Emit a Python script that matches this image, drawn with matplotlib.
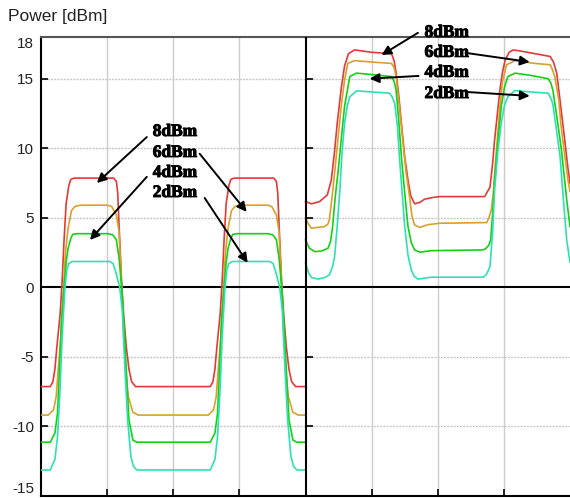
import matplotlib
matplotlib.use("Agg")
import matplotlib.pyplot as plt
import matplotlib.patheffects as pe

# ---------------- data ----------------
yticks = [-15, -10, -5, 0, 5, 10, 15, 18]
ytick_labels = ["-15", "-10", "-5", "0", "5", "10", "15", "18"]
series_names = ["8dBm", "6dBm", "4dBm", "2dBm"]
series_colors = ["#e23a36", "#d9a02c", "#16d016", "#2ee0b4"]

# left panel (x from 0 to 4)
red_left_x = [0.00, 0.14, 0.18, 0.21, 0.24, 0.29, 0.32, 0.35, 0.38, 0.42, 0.45, 0.50,
              1.10, 1.14, 1.16, 1.18, 1.22, 1.25, 1.29, 1.33, 1.37, 1.43,
              2.56, 2.60, 2.63, 2.66, 2.71, 2.74, 2.77, 2.80, 2.84, 2.87, 2.92,
              3.52, 3.56, 3.58, 3.60, 3.64, 3.67, 3.71, 3.75, 3.79, 3.85, 4.00]
red_left_y = [-7.15, -7.15, -6.8, -5.9, -4.3, -1.9, 0.5, 3.5, 6.0, 7.3, 7.75, 7.85,
              7.85, 7.6, 6.8, 4.5, 0.3, -2.0, -4.3, -5.9, -6.8, -7.15,
              -7.15, -6.8, -5.9, -4.3, -1.9, 0.5, 3.5, 6.0, 7.3, 7.75, 7.85,
              7.85, 7.6, 6.8, 4.5, 0.3, -2.0, -4.3, -5.9, -6.8, -7.15, -7.15]

orange_left_x = [0.00, 0.11, 0.19, 0.23, 0.26, 0.30, 0.34, 0.37, 0.41, 0.46, 0.51, 0.59,
                 1.01, 1.07, 1.14, 1.18, 1.20, 1.22, 1.25, 1.28, 1.32, 1.39, 1.47,
                 2.53, 2.61, 2.65, 2.68, 2.72, 2.76, 2.79, 2.83, 2.88, 2.93, 3.01,
                 3.43, 3.49, 3.56, 3.60, 3.62, 3.64, 3.67, 3.70, 3.74, 3.81, 3.89, 4.00]
orange_left_y = [-9.2, -9.2, -8.83, -7.87, -5.95, -3.55, 0.0, 2.5, 4.25, 5.5, 5.8, 5.9,
                 5.9, 5.8, 5.2, 4.0, 2.0, 0.0, -3.55, -5.95, -7.87, -9.0, -9.2,
                 -9.2, -8.83, -7.87, -5.95, -3.55, 0.0, 2.5, 4.25, 5.5, 5.8, 5.9,
                 5.9, 5.8, 5.2, 4.0, 2.0, 0.0, -3.55, -5.95, -7.87, -9.0, -9.2, -9.2]

green_left_x = [0.00, 0.14, 0.21, 0.25, 0.28, 0.31, 0.35, 0.38, 0.41, 0.45, 0.48, 0.54,
                1.02, 1.09, 1.14, 1.18, 1.22, 1.25, 1.29, 1.33, 1.39, 1.45,
                2.56, 2.63, 2.67, 2.70, 2.73, 2.77, 2.80, 2.83, 2.87, 2.90, 2.96,
                3.44, 3.51, 3.56, 3.60, 3.64, 3.67, 3.71, 3.75, 3.81, 3.87, 4.00]
green_left_y = [-11.15, -11.15, -10.5, -9.06, -5.95, -2.35, 0.0, 1.8, 2.8, 3.5, 3.8, 3.85,
                3.85, 3.75, 3.4, 2.1, 0.0, -2.35, -5.95, -9.55, -11.0, -11.15,
                -11.15, -10.5, -9.06, -5.95, -2.35, 0.0, 1.8, 2.8, 3.5, 3.8, 3.85,
                3.85, 3.75, 3.4, 2.1, 0.0, -2.35, -5.95, -9.55, -11.0, -11.15, -11.15]

cyan_left_x = [0.00, 0.14, 0.21, 0.25, 0.29, 0.32, 0.36, 0.39, 0.42, 0.47,
               1.04, 1.09, 1.13, 1.19, 1.23, 1.27, 1.31, 1.36, 1.40, 1.45,
               2.56, 2.63, 2.67, 2.71, 2.74, 2.78, 2.81, 2.84, 2.89,
               3.46, 3.51, 3.55, 3.61, 3.65, 3.69, 3.73, 3.78, 3.82, 3.87, 4.00]
cyan_left_y = [-13.15, -13.15, -12.4, -10.75, -7.15, -3.55, -0.2, 1.25, 1.7, 1.85,
               1.85, 1.7, 1.1, 0.0, -1.7, -5.95, -9.55, -12.2, -12.9, -13.15,
               -13.15, -12.4, -10.75, -7.15, -3.55, -0.2, 1.25, 1.7, 1.85,
               1.85, 1.7, 1.1, 0.0, -1.7, -5.95, -9.55, -12.2, -12.9, -13.15, -13.15]

# right panel (x from 4 to 8)
red_right_x = [4.00, 4.09, 4.21, 4.33, 4.39, 4.44, 4.48, 4.54, 4.59, 4.65, 4.74, 4.85,
               5.00, 5.15, 5.30, 5.34, 5.37, 5.41, 5.45, 5.50, 5.55, 5.59, 5.65, 5.73,
               5.80, 5.92, 6.03, 6.71, 6.79, 6.83, 6.86, 6.90, 6.94, 6.98, 7.02, 7.08,
               7.14, 7.24, 7.47, 7.70, 7.75, 7.80, 7.86, 7.92, 7.97, 8.00]
red_right_y = [6.16, 6.0, 6.15, 6.64, 7.7, 9.8, 11.8, 14.3, 15.9, 16.8, 17.07, 17.0,
               16.9, 16.85, 16.8, 16.3, 15.4, 13.8, 11.8, 9.4, 7.7, 6.6, 6.0, 6.1,
               6.33, 6.45, 6.52, 6.52, 7.2, 8.9, 10.6, 12.4, 14.2, 15.5, 16.35, 16.9,
               17.07, 17.0, 16.8, 16.6, 16.2, 15.4, 13.0, 10.6, 8.5, 7.5]

orange_right_x = [4.00, 4.05, 4.09, 4.18, 4.29, 4.34, 4.36, 4.40, 4.44, 4.49, 4.54, 4.59,
                  4.64, 4.74, 5.00, 5.30, 5.34, 5.37, 5.42, 5.47, 5.52, 5.58, 5.61, 5.65,
                  5.73, 5.85, 6.03, 6.74, 6.77, 6.81, 6.84, 6.86, 6.90, 6.94, 6.98, 7.04,
                  7.17, 7.47, 7.70, 7.73, 7.77, 7.83, 7.86, 7.92, 7.97, 8.00]
orange_right_y = [4.96, 4.5, 4.24, 4.3, 4.36, 4.55, 4.84, 6.4, 8.2, 10.6, 13.0, 14.9,
                  16.1, 16.3, 16.2, 16.1, 15.8, 15.15, 13.0, 10.6, 8.3, 6.28, 5.1, 4.48,
                  4.3, 4.5, 4.6, 4.65, 4.95, 5.56, 6.8, 8.2, 10.6, 13.0, 14.8, 16.0,
                  16.3, 16.1, 16.0, 15.7, 15.15, 13.5, 11.8, 9.5, 7.7, 6.9]

green_right_x = [4.00, 4.06, 4.14, 4.24, 4.34, 4.38, 4.41, 4.45, 4.49, 4.54, 4.59, 4.67,
                 4.77, 5.00, 5.30, 5.34, 5.37, 5.41, 5.45, 5.50, 5.55, 5.60, 5.65, 5.73,
                 5.91, 6.67, 6.72, 6.77, 6.80, 6.83, 6.86, 6.91, 6.96, 7.01, 7.06, 7.17,
                 7.39, 7.67, 7.71, 7.74, 7.80, 7.87, 7.95, 8.00]
green_right_y = [3.4, 2.8, 2.56, 2.6, 2.8, 3.3, 4.36, 6.5, 8.2, 10.6, 13.0, 15.15,
                 15.4, 15.3, 15.15, 14.8, 14.2, 12.0, 9.4, 6.8, 4.36, 3.2, 2.68, 2.52,
                 2.63, 2.68, 2.75, 3.0, 3.4, 5.3, 7.7, 10.5, 13.0, 14.4, 15.15, 15.4,
                 15.25, 15.0, 14.7, 14.2, 12.3, 9.9, 6.3, 4.36]

cyan_right_x = [4.00, 4.05, 4.09, 4.19, 4.29, 4.36, 4.41, 4.44, 4.48, 4.52, 4.55, 4.59,
                4.63, 4.67, 4.77, 5.00, 5.27, 5.31, 5.35, 5.39, 5.42, 5.50, 5.55, 5.60,
                5.64, 5.70, 5.90, 6.69, 6.74, 6.79, 6.83, 6.86, 6.91, 6.96, 7.01, 7.06,
                7.17, 7.39, 7.67, 7.71, 7.74, 7.79, 7.85, 7.90, 7.95, 8.00]
cyan_right_y = [1.73, 1.0, 0.7, 0.58, 0.7, 0.88, 1.5, 2.2, 4.4, 7.0, 9.5, 11.8,
                13.0, 13.7, 14.12, 14.05, 13.96, 13.7, 13.2, 11.6, 9.4, 4.36, 2.3, 1.24,
                0.8, 0.58, 0.72, 0.72, 0.95, 1.48, 4.0, 7.0, 9.8, 11.8, 13.1, 13.7,
                14.15, 14.05, 13.96, 13.6, 13.2, 11.5, 9.4, 6.3, 3.4, 1.8]

left_x = [red_left_x, orange_left_x, green_left_x, cyan_left_x]
left_y = [red_left_y, orange_left_y, green_left_y, cyan_left_y]
right_x = [red_right_x, orange_right_x, green_right_x, cyan_right_x]
right_y = [red_right_y, orange_right_y, green_right_y, cyan_right_y]

# ---------------- figure ----------------
fig = plt.figure(figsize=(5.70, 4.98), dpi=100)
ax = fig.add_axes([41 / 570, 2.3 / 498, 529 / 570, 458.7 / 498])
ax.set_xlim(0, 8)
ax.set_ylim(-15, 18)

# grid
for gx in [1, 2, 3, 5, 6, 7]:
    ax.axvline(gx, color="#cccccc", lw=1.0, zorder=1)
for gy in [-10, -5, 5, 10, 15]:
    ax.axhline(gy, color="#c8c8c8", lw=1.0, ls=(0, (1.5, 0.8)), zorder=1)
ax.axhline(0, color="black", lw=1.5, zorder=2)
ax.axvline(4, color="black", lw=1.5, zorder=4)

# curves
for xs, ys, c in zip(left_x, left_y, series_colors):
    ax.plot(xs, ys, color=c, lw=1.2, zorder=3)
for xs, ys, c in zip(right_x, right_y, series_colors):
    ax.plot(xs, ys, color=c, lw=1.2, zorder=3)

# ticks
ax.set_yticks(yticks)
ax.set_yticklabels(ytick_labels, fontsize=11, family="Liberation Sans", color="#222222")
ax.set_xticks([1, 2, 3, 4, 5, 6, 7])
ax.set_xticklabels([])
ax.tick_params(axis="both", direction="in", length=5, width=1.2, color="black")
ax.tick_params(axis="y", pad=5)
for lab in ax.get_yticklabels():
    if lab.get_text() == "18":
        lab.set_va("top")
    elif lab.get_text() == "-15":
        lab.set_va("bottom")
# ticks on the divider
ax.plot([4] * 6, [-10, -5, 0, 5, 10, 15], marker=1, ms=5, mew=1.2,
        color="black", ls="none", zorder=5, clip_on=False)

for s in ["left", "bottom"]:
    ax.spines[s].set_color("black")
    ax.spines[s].set_linewidth(1.5)
ax.spines["top"].set_color("#555555")
ax.spines["top"].set_linewidth(1.5)
ax.spines["right"].set_visible(False)

# annotations
tfont = dict(family="Liberation Serif", fontweight="bold", fontsize=12.5, color="black")
thick = [pe.withStroke(linewidth=0.7, foreground="black")]
arrow = dict(arrowstyle="-|>", color="black", lw=1.4, mutation_scale=14,
             shrinkA=0, shrinkB=0)

left_label_x = 1.69
left_label_y = [11.17, 9.66, 8.22, 6.78]
for name, ly in zip(series_names, left_label_y):
    ax.text(left_label_x, ly, name, ha="left", va="center", zorder=6,
            path_effects=thick, **tfont)
left_arrows = [((1.60, 10.8), (0.845, 7.5)),
               ((2.40, 9.6), (3.11, 5.42)),
               ((1.60, 7.94), (0.74, 3.4)),
               ((2.475, 6.42), (3.125, 1.75))]
for (p0, p1) in left_arrows:
    ax.annotate("", xy=p1, xytext=p0, arrowprops=arrow, zorder=6)

right_label_x = 5.80
right_label_y = [18.3, 16.86, 15.42, 13.9]
for name, ly in zip(series_names, right_label_y):
    ax.text(right_label_x, ly, name, ha="left", va="center", zorder=6,
            clip_on=False, path_effects=thick, **tfont)
right_arrows = [((5.70, 18.3), (5.15, 16.7)),
                ((6.42, 16.86), (7.39, 16.2)),
                ((5.71, 15.2), (4.97, 15.0)),
                ((6.42, 14.05), (7.39, 13.76))]
for (p0, p1) in right_arrows:
    ax.annotate("", xy=p1, xytext=p0, arrowprops=arrow, zorder=6,
                annotation_clip=False)

fig.text(8 / 570, 1 - 16 / 498, "Power [dBm]", ha="left", va="center",
         fontsize=12.5, family="Liberation Sans", color="#222222")

fig.savefig("out.png", dpi=100)
